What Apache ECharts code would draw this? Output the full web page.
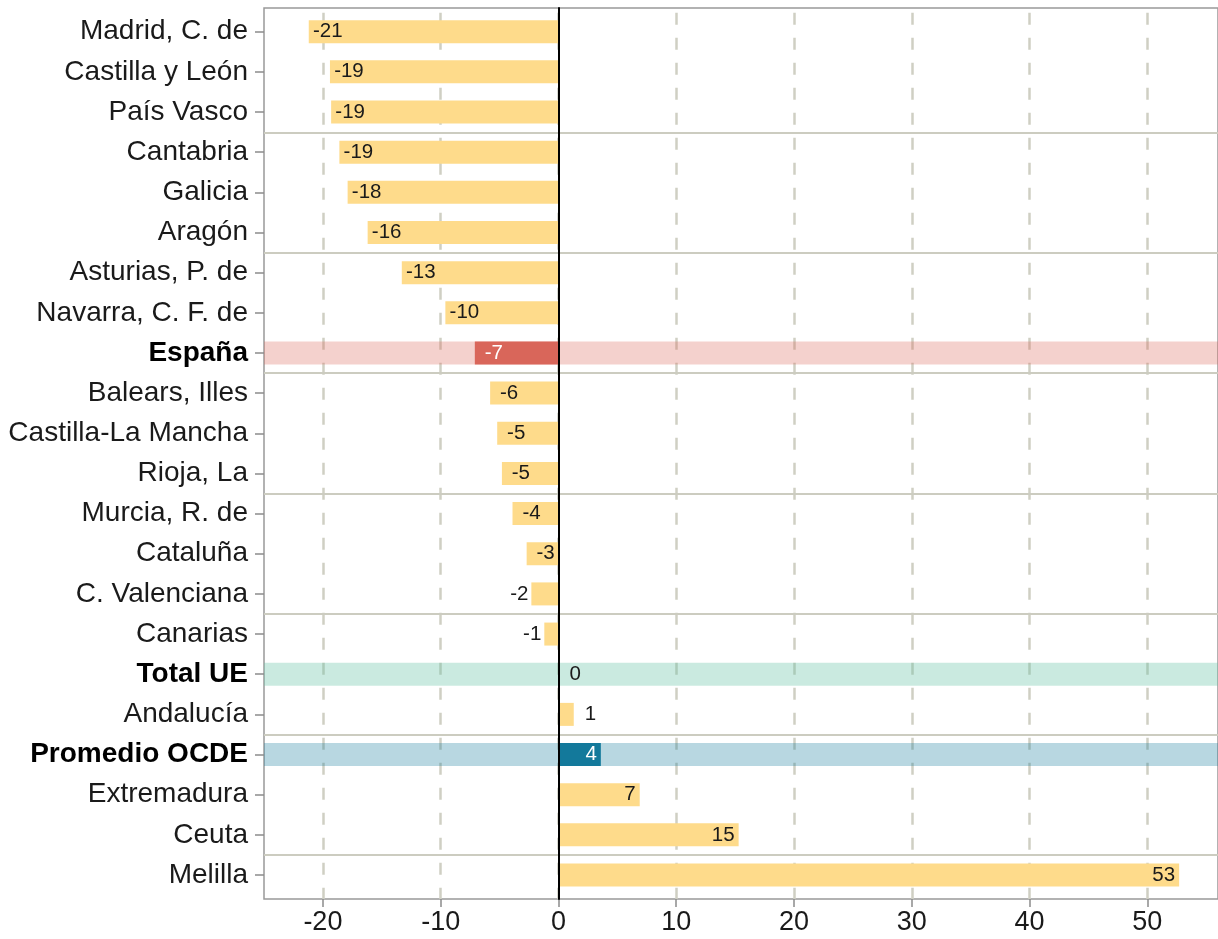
<!DOCTYPE html>
<html>
<head>
<meta charset="utf-8">
<script src="https://cdn.jsdelivr.net/npm/echarts@6/dist/echarts.min.js"></script>
<style>
  html, body { margin: 0; padding: 0; background: #fff; }
  #chart { width: 1218px; height: 939px; }
</style>
</head>
<body>
<div id="chart"></div>
<script>
// datos
const categories = ['Madrid, C. de', 'Castilla y León', 'País Vasco', 'Cantabria', 'Galicia', 'Aragón',
  'Asturias, P. de', 'Navarra, C. F. de', 'España', 'Balears, Illes', 'Castilla-La Mancha', 'Rioja, La',
  'Murcia, R. de', 'Cataluña', 'C. Valenciana', 'Canarias', 'Total UE', 'Andalucía', 'Promedio OCDE',
  'Extremadura', 'Ceuta', 'Melilla'];
const values = [-21.2, -19.4, -19.3, -18.6, -17.9, -16.2, -13.3, -9.6, -7.1, -5.8, -5.2, -4.8,
  -3.9, -2.7, -2.3, -1.2, 0, 1.3, 3.6, 6.9, 15.3, 52.7];
const xTicks = [-20, -10, 0, 10, 20, 30, 40, 50];
const xMin = -25;
const xMax = 56;
const highlightNames = ['España', 'Total UE', 'Promedio OCDE'];
// separadores entre grupos de 3 filas (posicion entre filas)
const groupBreaks = [2.5, 5.5, 8.5, 11.5, 14.5, 17.5, 20.5];

const FONT = 'Liberation Sans';
const barColor = '#FEDB8B';
const barHighlight = { 'España': '#D9665A', 'Total UE': '#66C2A5', 'Promedio OCDE': '#13799B' };
const bandHighlight = { 'España': 'rgba(217,102,90,0.3)', 'Total UE': 'rgba(102,194,165,0.35)', 'Promedio OCDE': 'rgba(19,121,155,0.3)' };

function labelFor(v, name) {
  const color = (name === 'España' || name === 'Promedio OCDE') ? '#fff' : '#1a1a1a';
  if (v <= -2.5) return { position: 'insideLeft', distance: 19, align: 'center', color };
  if (v < 0) return { position: 'left', distance: 3, color };
  if (v < 2) return { position: 'right', distance: 11, color };
  return { position: 'insideRight', distance: 4, color };
}

const chart = echarts.init(document.getElementById('chart'));

const bandPos = categories.map(c => highlightNames.includes(c)
  ? { value: xMax, itemStyle: { color: bandHighlight[c] } } : '-');
const bandNeg = categories.map(c => highlightNames.includes(c)
  ? { value: xMin, itemStyle: { color: bandHighlight[c] } } : '-');
const barData = values.map((v, i) => ({
  value: v,
  itemStyle: { color: barHighlight[categories[i]] || barColor },
  label: labelFor(v, categories[i])
}));

const gridLeft = 264;
const gridWidth = (xMax - xMin) * 11.824;

const option = {
  animation: false,
  backgroundColor: '#fff',
  grid: [
    { left: gridLeft, top: 8, width: gridWidth, height: 891, show: true, borderColor: '#999', borderWidth: 1.5, backgroundColor: 'transparent' },
    { left: gridLeft, top: 11.6, width: gridWidth, height: 883.5 }
  ],
  xAxis: [{
    gridIndex: 0,
    type: 'value',
    min: xMin,
    max: xMax,
    axisLine: { show: false, onZero: false },
    axisTick: { show: true, length: 8, customValues: xTicks, lineStyle: { color: '#8c8c8c', width: 1.5 } },
    axisLabel: { customValues: xTicks, fontSize: 27, fontFamily: FONT, color: '#1a1a1a', margin: 10 },
    splitLine: {
      show: true,
      lineStyle: { color: '#CFCFC3', width: 2.5, type: [12, 13], dashOffset: 20.3 }
    }
  }, {
    gridIndex: 1,
    type: 'value',
    min: xMin,
    max: xMax,
    show: false,
    splitLine: { show: false }
  }],
  yAxis: [{
    gridIndex: 0,
    type: 'value',
    inverse: true,
    min: -0.6,
    max: 21.6,
    z: 10,
    axisLine: { show: true, onZero: true, lineStyle: { color: '#000', width: 2 } },
    axisTick: { show: false, customValues: groupBreaks },
    axisLabel: { show: false },
    splitLine: { show: true, lineStyle: { color: '#CCCCC0', width: 2 } }
  }, {
    gridIndex: 1,
    type: 'category',
    inverse: true,
    data: categories,
    axisLine: { show: false, onZero: false },
    axisTick: { show: true, alignWithLabel: true, length: 9, lineStyle: { color: '#8c8c8c', width: 1.5 } },
    axisLabel: {
      fontSize: 28,
      fontFamily: FONT,
      color: '#1a1a1a',
      margin: 16,
      formatter: v => highlightNames.includes(v) ? '{b|' + v + '}' : v,
      rich: { b: { fontWeight: 'bold', fontSize: 28, fontFamily: FONT, color: '#000' } }
    },
    splitLine: { show: false }
  }],
  series: [{
    name: 'bandPos',
    type: 'bar',
    xAxisIndex: 1,
    yAxisIndex: 1,
    barWidth: 23,
    barGap: '-100%',
    silent: true,
    data: bandPos
  }, {
    name: 'bandNeg',
    type: 'bar',
    xAxisIndex: 1,
    yAxisIndex: 1,
    barWidth: 23,
    barGap: '-100%',
    silent: true,
    data: bandNeg
  }, {
    name: 'valor',
    type: 'bar',
    xAxisIndex: 1,
    yAxisIndex: 1,
    barWidth: 23,
    barGap: '-100%',
    label: {
      show: true,
      fontSize: 20.5,
      fontFamily: FONT,
      formatter: p => String(Math.round(p.value))
    },
    data: barData
  }]
};

chart.setOption(option);
</script>
</body>
</html>
